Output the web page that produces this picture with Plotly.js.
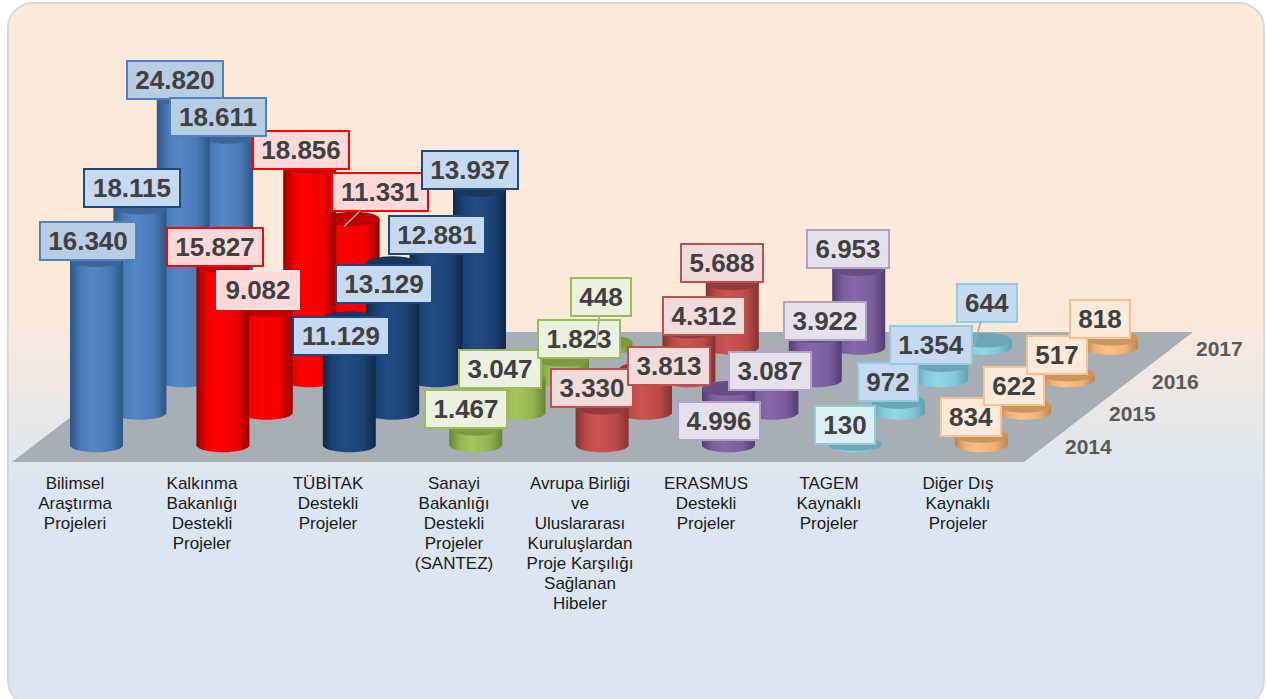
<!DOCTYPE html>
<html lang="tr">
<head>
<meta charset="utf-8">
<title>Proje destekleri</title>
<script src="https://cdn.plot.ly/plotly-3.0.1.min.js"></script>
<style>
html,body{margin:0;padding:0;width:1266px;height:699px;background:#fff;overflow:hidden}
#panel{position:absolute;left:7px;top:2px;width:1258px;height:705px;box-sizing:border-box;border:2px solid #d9d9d9;border-radius:26px;
background:linear-gradient(to bottom,#fde9d9 0%,#fde9d9 44%,#dce6f2 68%,#dce6f2 100%)}
#chart{position:absolute;left:0;top:0;width:1266px;height:699px}
</style>
</head>
<body>
<div id="panel"></div>
<div id="chart"></div>
<script>
// ---- data -------------------------------------------------------------
var years = ["2014","2015","2016","2017"];
var categories = [
  ["Bilimsel","Araştırma","Projeleri"],
  ["Kalkınma","Bakanlığı","Destekli","Projeler"],
  ["TÜBİTAK","Destekli","Projeler"],
  ["Sanayi","Bakanlığı","Destekli","Projeler","(SANTEZ)"],
  ["Avrupa Birliği","ve","Uluslararası","Kuruluşlardan","Proje Karşılığı","Sağlanan","Hibeler"],
  ["ERASMUS","Destekli","Projeler"],
  ["TAGEM","Kaynaklı","Projeler"],
  ["Diğer Dış","Kaynaklı","Projeler"]
];
var bilimsel  = [16340,18115,24820,18611];
var kalkinma  = [15827, 9082,18856,11331];
var tubitak   = [11129,13129,12881,13937];
var sanayi    = [ 1467, 3047, 1823,  448];
var avrupa    = [ 3330, 3813, 4312, 5688];
var erasmus   = [ 4996, 3087, 3922, 6953];
var tagem     = [  130,  972, 1354,  644];
var diger     = [  834,  622,  517,  818];
var values = [bilimsel,kalkinma,tubitak,sanayi,avrupa,erasmus,tagem,diger];

// ---- styles and layout (kept apart from the data) ----------------------
var cylStyle = [
  {edge:"#2c5685",mid:"#4a7ab5",hi:"#5587c8",cap:"#3c6698"},
  {edge:"#960000",mid:"#f00000",hi:"#ff0000",cap:"#c00000"},
  {edge:"#0f2848",mid:"#1c4275",hi:"#204c84",cap:"#17375e"},
  {edge:"#688532",mid:"#93b452",hi:"#a6c75c",cap:"#7c9a42"},
  {edge:"#87312f",mid:"#bb4b48",hi:"#cc5450",cap:"#953a38"},
  {edge:"#543c72",mid:"#7a5e9c",hi:"#8767aa",cap:"#664e84"},
  {edge:"#5f9fb2",mid:"#84c8db",hi:"#92d6e9",cap:"#6ba7b8"},
  {edge:"#bb8650",mid:"#f0b176",hi:"#fcc083",cap:"#c9965f"}
];
var labelFill = [
  ["#b8cce4","#c6d9f1","#b8cce4","#b8cce4"],
  ["#ffd9d9","#ffd9d9","#ffd9d9","#ffd9d9"],
  ["#c6d9f1","#c6d9f1","#c6d9f1","#c6d9f1"],
  ["#ebf1de","#ebf1de","#ebf1de","#ebf1de"],
  ["#f2dcdb","#f2dcdb","#f2dcdb","#f2dcdb"],
  ["#e6e0ec","#e6e0ec","#e6e0ec","#e6e0ec"],
  ["#dbeef4","#c6d9f1","#c6d9f1","#c6d9f1"],
  ["#fdeada","#fdeada","#fdeada","#fdeada"]
];
var labelLine = [
  ["#4f81bd","#1f497d","#4f81bd","#4f81bd"],
  ["#ff0000","#ffe4e4","#ff0000","#ff0000"],
  ["#1f497d","#1f497d","#1f497d","#1f497d"],
  ["#9bbb59","#9bbb59","#9bbb59","#9bbb59"],
  ["#c0504d","#c0504d","#c0504d","#c0504d"],
  ["#b3a2c7","#b3a2c7","#b3a2c7","#b3a2c7"],
  ["#92cddc","#92cddc","#92cddc","#92cddc"],
  ["#fac090","#fac090","#fac090","#fac090"]
];
var labelX = [
  [88,132,175,218],[215,257.5,301,380],[340.5,384,437,470],[466,499.5,578.5,601],
  [592,669,704,722],[719,769.5,825,848],[844.5,887.5,930.5,987],[970.5,1014,1057,1100]
];
var labelY = [
  [241,187.5,79.5,116.5],[246.5,290,149.5,191.5],[336,284,235,170],[409,368.5,339,296.5],
  [387.5,365.5,316,262.5],[420.5,370.5,321,249],[424.5,381.5,344.5,302.5],[416.5,385.5,354.5,318.5]
];
var catLabelX = [75,202,328,454,580,706,829,958];
var catLabelTop = 485, catLabelStep = 20;
// leader lines: [category, row, end x, end y]
var leaders = [[1,3,344,226.5],[3,3,596.5,347],[6,3,973,347]];

var originX = 96.5, originY = 445;   // front-left column base centre
var catStep = 126.4, rowDx = 43.4, rowDy = 32.5;
var rx = 26.5, ry = 7.3, pxPerUnit = 0.01134;
var floorPts = {x:[12,1024,1193,182], y:[462,462,332,332]};

// ---- projection --------------------------------------------------------
function px(c,r){ return originX + c*catStep + r*rowDx; }
function py(r,v){ return originY - r*rowDy - v*pxPerUnit; }
function fmt(v){ return String(v).replace(/\B(?=(\d{3})+$)/g,"."); }

var traces = [{x:floorPts.x, y:floorPts.y, type:"scatter", mode:"none", fill:"toself",
  fillcolor:"#a7aeb5", hoverinfo:"skip", showlegend:false}];

var N = 36;
for (var r=3; r>=0; r--) {
  for (var c=0; c<values.length; c++) {
    var v = values[c][r], cx = px(c,r), baseY = py(r,0), topY = py(r,v), s = cylStyle[c];
    var bx=[], by=[], tx=[], ty=[], i, a;
    bx.push(cx-rx); by.push(topY);
    bx.push(cx+rx); by.push(topY);
    for (i=0;i<=N;i++){ a=Math.PI*i/N; bx.push(cx+rx*Math.cos(a)); by.push(baseY+ry*Math.sin(a)); }
    traces.push({x:bx,y:by,type:"scatter",mode:"none",fill:"toself",hoverinfo:"skip",showlegend:false,
      fillgradient:{type:"horizontal",colorscale:[[0,s.edge],[0.2,s.mid],[0.42,s.hi],[0.76,s.mid],[1,s.edge]]}});
    for (i=0;i<=2*N;i++){ a=Math.PI*i/N; tx.push(cx+rx*Math.cos(a)); ty.push(topY+ry*Math.sin(a)); }
    traces.push({x:tx,y:ty,type:"scatter",mode:"none",fill:"toself",fillcolor:s.cap,
      hoverinfo:"skip",showlegend:false});
  }
}

// category labels, one text mark per line
var tickX=[], tickY=[], tickT=[];
categories.forEach(function(lines,ci){
  lines.forEach(function(t,li){ tickX.push(catLabelX[ci]); tickY.push(catLabelTop+catLabelStep*li); tickT.push(t); });
});
traces.push({x:tickX,y:tickY,text:tickT,type:"scatter",mode:"text",textposition:"middle center",
  textfont:{family:"Liberation Sans, Arial, sans-serif",size:17,color:"#1a1a1a"},hoverinfo:"skip",showlegend:false});

// year labels
var annotations = years.map(function(y,ri){
  return {x:px(7,ri)+107.5,y:py(ri,0)+1,xref:"x",yref:"y",text:"<b>"+y+"</b>",showarrow:false,xanchor:"center",yanchor:"middle",
    font:{family:"Liberation Sans, Arial, sans-serif",size:21,color:"#595959"}};
});

// value labels, front row first so the back rows stay on top
var widths = {3:62,5:84,6:98};
for (var rr=0; rr<4; rr++) {
  for (var cc=0; cc<values.length; cc++) {
    var t = fmt(values[cc][rr]);
    var leader = leaders.filter(function(l){return l[0]===cc && l[1]===rr;})[0];
    var ann = {xref:"x",yref:"y",text:"<b>"+t+"</b>",xanchor:"center",yanchor:"middle",
      width:widths[t.length]-4,height:36,borderpad:0,borderwidth:2,
      bgcolor:labelFill[cc][rr],bordercolor:labelLine[cc][rr],
      font:{family:"Liberation Sans, Arial, sans-serif",size:26,color:"#404040"}};
    if (leader) {
      ann.x=leader[2]; ann.y=leader[3]; ann.axref="x"; ann.ayref="y";
      ann.ax=labelX[cc][rr]; ann.ay=labelY[cc][rr];
      ann.showarrow=true; ann.arrowhead=0; ann.arrowwidth=1.5; ann.arrowcolor="#a6a6a6";
    } else {
      ann.x=labelX[cc][rr]; ann.y=labelY[cc][rr]; ann.showarrow=false;
    }
    annotations.push(ann);
  }
}

var hiddenAxis = {visible:false,fixedrange:true,showgrid:false,zeroline:false};
var layout = {
  width:1266,height:699,margin:{l:0,r:0,t:0,b:0},showlegend:false,
  paper_bgcolor:"rgba(0,0,0,0)",plot_bgcolor:"rgba(0,0,0,0)",
  xaxis:Object.assign({range:[0,1266]},hiddenAxis),
  yaxis:Object.assign({range:[699,0]},hiddenAxis),
  annotations:annotations
};
Plotly.newPlot("chart",traces,layout,{staticPlot:true,displayModeBar:false});
</script>
</body>
</html>
